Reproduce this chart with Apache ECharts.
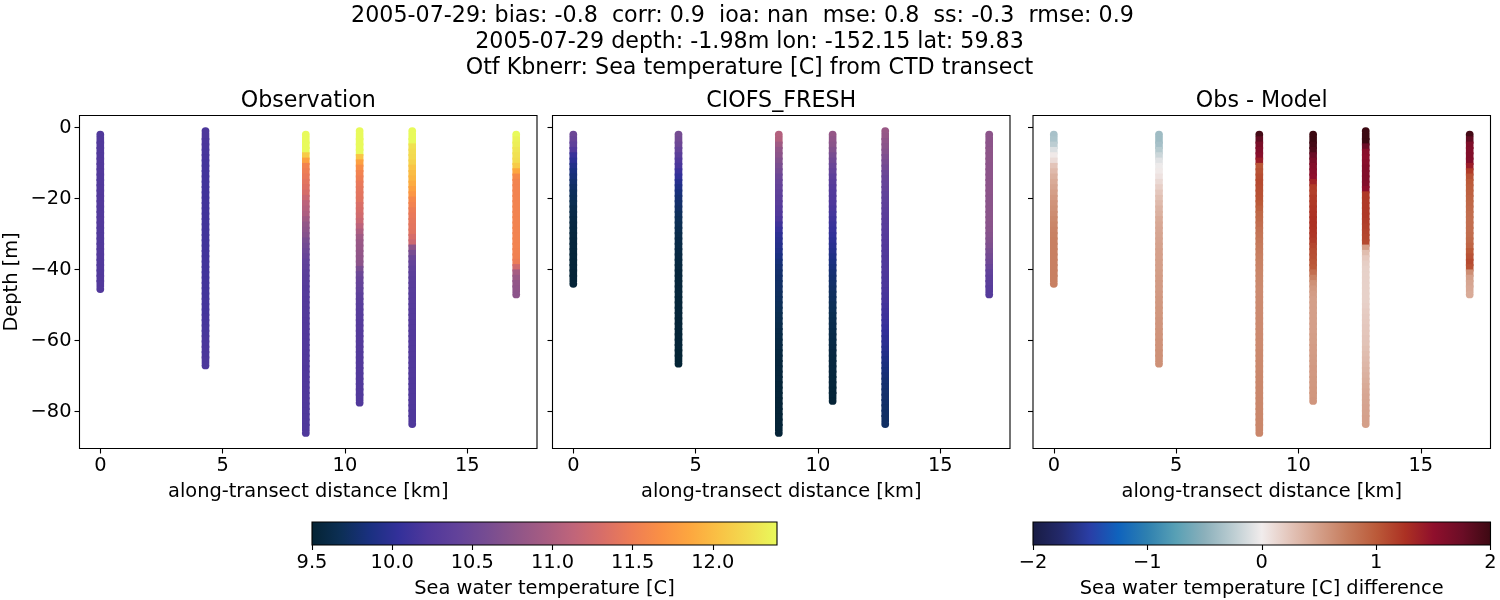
<!DOCTYPE html>
<html><head><meta charset="utf-8">
<script src="https://cdn.jsdelivr.net/npm/echarts@6/dist/echarts.min.js"></script>
<style>html,body{margin:0;background:#fff}#c{width:1500px;height:600px}</style></head>
<body><div id="c"></div>
<script>
const titleLines = [
  '2005-07-29: bias: -0.8  corr: 0.9  ioa: nan  mse: 0.8  ss: -0.3  rmse: 0.9',
  '2005-07-29 depth: -1.98m lon: -152.15 lat: 59.83',
  'Otf Kbnerr: Sea temperature [C] from CTD transect'
];
const panelTitles = ['Observation', 'CIOFS_FRESH', 'Obs - Model'];
const castKm = [0, 4.3, 8.4, 10.6, 12.75, 17.0];
const xTicks = [0, 5, 10, 15];
const yTicks = [0, -20, -40, -60, -80];
const tempTicks = [9.5, 10, 10.5, 11, 11.5, 12];
const diffTicks = [-2, -1, 0, 1, 2];
const depthsFrom1 = [-1,-2.5,-4,-5.5,-7,-8.5,-10,-11.5,-13,-14.5,-16,-17.5,-19,-20.5,-22,-23.5,-25,-26.5,-28,-29.5,-31,-32.5,-34,-35.5,-37,-38.5,-40,-41.5,-43,-44.5,-46,-47.5,-49,-50.5,-52,-53.5,-55,-56.5,-58,-59.5,-61,-62.5,-64,-65.5,-67,-68.5,-70,-71.5,-73,-74.5,-76,-77.5,-79,-80.5,-82,-83.5,-85];
const depthsFrom2 = [-2,-3.5,-5,-6.5,-8,-9.5,-11,-12.5,-14,-15.5,-17,-18.5,-20,-21.5,-23,-24.5,-26,-27.5,-29,-30.5,-32,-33.5,-35,-36.5,-38,-39.5,-41,-42.5,-44,-45.5,-47,-48.5,-50,-51.5,-53,-54.5,-56,-57.5,-59,-60.5,-62,-63.5,-65,-66.5,-68,-69.5,-71,-72.5,-74,-75.5,-77,-78.5,-80,-81.5,-83,-84.5,-86];

const obs0 = [10.24,10.24,10.24,10.24,10.24,10.25,10.25,10.25,10.24,10.24,10.24,10.25,10.25,10.25,10.24,10.24,10.25,10.25,10.24,10.24,10.24,10.25,10.25,10.25,10.24,10.24,10.24,10.25,10.25,10.25];
const obs1 = [10.2,10.2,10.19,10.18,10.17,10.16,10.15,10.15,10.14,10.14,10.13,10.13,10.13,10.13,10.13,10.13,10.13,10.13,10.13,10.13,10.13,10.13,10.13,10.13,10.13,10.13,10.13,10.14,10.14,10.14,10.14,10.14,10.15,10.15,10.15,10.16,10.16,10.17,10.17,10.18,10.18,10.19,10.19,10.2,10.2];
const obs2 = [12.6,12.6,12.5,12.4,12.1,11.8,11.55,11.5,11.45,11.4,11.35,11.3,11.2,11.1,11.05,11,10.9,10.8,10.75,10.7,10.6,10.55,10.5,10.45,10.4,10.38,10.35,10.33,10.3,10.28,10.28,10.27,10.27,10.26,10.26,10.25,10.25,10.25,10.25,10.24,10.24,10.24,10.24,10.24,10.23,10.23,10.23,10.23,10.23,10.23,10.23,10.22,10.22,10.22,10.22,10.22,10.22];
const obs3 = [12.7,12.7,12.6,12.5,12.4,12.05,11.8,11.65,11.55,11.5,11.45,11.42,11.4,11.38,11.32,11.3,11.25,11.2,11.1,11,10.9,10.85,10.83,10.8,10.78,10.75,10.6,10.5,10.45,10.42,10.4,10.35,10.33,10.31,10.3,10.29,10.28,10.28,10.27,10.27,10.26,10.26,10.25,10.25,10.25,10.25,10.24,10.24,10.24,10.24,10.24,10.24];
const obs4 = [12.8,12.6,12.4,12.25,12.22,12.2,12.15,12.05,12,11.95,11.88,11.8,11.72,11.6,11.55,11.48,11.45,11.42,11.4,11.38,11.3,11.22,10.75,10.6,10.48,10.42,10.38,10.35,10.33,10.32,10.31,10.3,10.3,10.29,10.28,10.28,10.27,10.27,10.26,10.26,10.25,10.25,10.25,10.24,10.24,10.24,10.24,10.23,10.23,10.23,10.23,10.23,10.22,10.22,10.22,10.22];
const obs5 = [12.4,12.35,12.33,12.28,12.25,12.22,12.1,11.85,11.62,11.56,11.55,11.55,11.55,11.55,11.55,11.55,11.55,11.55,11.55,11.55,11.55,11.55,11.54,11.53,11.48,11.25,10.95,10.85,10.8,10.78,10.75];

const mod0 = [10.5,10.45,10.38,10.25,10.08,10,9.92,9.86,9.82,9.78,9.74,9.71,9.69,9.66,9.63,9.61,9.59,9.58,9.57,9.56,9.55,9.55,9.54,9.54,9.53,9.53,9.52,9.52,9.52];
const mod1 = [10.58,10.55,10.5,10.42,10.33,10.24,10.18,10.1,10.03,9.96,9.9,9.84,9.8,9.77,9.74,9.71,9.69,9.67,9.65,9.63,9.61,9.6,9.59,9.58,9.57,9.56,9.55,9.55,9.54,9.54,9.54,9.53,9.53,9.53,9.53,9.52,9.52,9.52,9.52,9.52,9.52,9.51,9.51,9.51];
const mod2 = [11.05,11.03,10.9,10.8,10.75,10.68,10.62,10.57,10.5,10.46,10.42,10.38,10.35,10.32,10.28,10.25,10.2,10.12,10.06,10,9.97,9.94,9.91,9.87,9.83,9.8,9.78,9.76,9.75,9.74,9.72,9.71,9.7,9.68,9.66,9.65,9.63,9.61,9.6,9.59,9.58,9.57,9.56,9.55,9.55,9.54,9.54,9.53,9.53,9.53,9.52,9.52,9.52,9.52,9.52,9.52,9.52];
const mod3 = [10.82,10.78,10.74,10.68,10.6,10.54,10.48,10.42,10.36,10.32,10.28,10.26,10.24,10.21,10.18,10.15,10.12,10.09,10.06,10.03,10,9.97,9.94,9.9,9.87,9.84,9.81,9.79,9.76,9.74,9.72,9.71,9.69,9.68,9.66,9.65,9.64,9.62,9.61,9.6,9.59,9.58,9.57,9.56,9.56,9.55,9.54,9.54,9.53,9.53,9.52];
const mod4 = [10.85,10.82,10.78,10.74,10.7,10.65,10.6,10.55,10.5,10.46,10.44,10.42,10.4,10.38,10.37,10.35,10.34,10.32,10.31,10.3,10.28,10.27,10.25,10.24,10.23,10.22,10.22,10.21,10.2,10.2,10.19,10.17,10.16,10.14,10.12,10.1,10.08,10.05,10.03,10,9.98,9.95,9.92,9.89,9.86,9.84,9.82,9.8,9.79,9.78,9.77,9.76,9.75,9.75,9.74,9.74];
const mod5 = [10.75,10.75,10.75,10.76,10.76,10.76,10.75,10.75,10.75,10.75,10.75,10.75,10.74,10.74,10.74,10.74,10.74,10.73,10.72,10.7,10.68,10.65,10.6,10.56,10.52,10.46,10.4,10.36,10.33,10.3,10.28];

const dif0 = [-0.35,-0.33,-0.25,-0.1,0.02,0.1,0.25,0.32,0.38,0.42,0.46,0.5,0.54,0.58,0.6,0.63,0.66,0.68,0.7,0.71,0.72,0.72,0.72,0.72,0.72,0.72,0.72,0.72,0.72];
const dif1 = [-0.4,-0.4,-0.36,-0.28,-0.18,-0.08,-0.02,0.02,0.06,0.12,0.18,0.23,0.28,0.32,0.36,0.38,0.42,0.44,0.45,0.46,0.47,0.48,0.49,0.49,0.5,0.5,0.51,0.52,0.53,0.53,0.54,0.55,0.55,0.56,0.56,0.57,0.57,0.58,0.58,0.59,0.59,0.6,0.6,0.6];
const dif2 = [1.95,1.8,1.65,1.6,1.55,1.4,1.02,1.05,1.08,1.1,1.08,1.06,1.05,1,0.95,0.9,0.88,0.85,0.82,0.8,0.78,0.76,0.74,0.72,0.71,0.7,0.68,0.67,0.66,0.65,0.65,0.65,0.65,0.65,0.65,0.65,0.65,0.65,0.65,0.65,0.65,0.66,0.66,0.66,0.66,0.67,0.67,0.67,0.67,0.67,0.67,0.67,0.67,0.67,0.67,0.67,0.67];
const dif3 = [2,2,1.95,1.9,1.75,1.65,1.58,1.55,1.5,1.35,1.18,1.15,1.18,1.2,1.22,1.24,1.25,1.25,1.24,1.22,1.18,1.12,1.08,1.06,1.03,1,0.85,0.72,0.6,0.55,0.52,0.5,0.5,0.5,0.5,0.5,0.5,0.5,0.51,0.51,0.52,0.52,0.53,0.53,0.54,0.54,0.55,0.55,0.56,0.56,0.57];
const dif4 = [2,2,2,1.75,1.55,1.52,1.55,1.58,1.6,1.6,1.58,1.5,1.2,1.2,1.2,1.2,1.2,1.18,1.16,1.14,1.12,1.1,0.5,0.3,0.22,0.19,0.17,0.17,0.17,0.17,0.17,0.17,0.17,0.18,0.2,0.21,0.22,0.23,0.24,0.25,0.26,0.28,0.3,0.32,0.34,0.36,0.38,0.4,0.42,0.44,0.45,0.46,0.47,0.48,0.49,0.5];
const dif5 = [1.95,1.8,1.62,1.6,1.6,1.58,1.4,1.18,1.05,1,0.97,0.95,0.93,0.9,0.88,0.86,0.85,0.85,0.85,0.86,0.88,0.92,1,1.05,1.1,1.05,0.62,0.5,0.46,0.44,0.42];

const obsCasts = [[obs0,depthsFrom2],[obs1,depthsFrom1],[obs2,depthsFrom2],[obs3,depthsFrom1],[obs4,depthsFrom1],[obs5,depthsFrom2]];
const modCasts = [[mod0,depthsFrom2],[mod1,depthsFrom2],[mod2,depthsFrom2],[mod3,depthsFrom2],[mod4,depthsFrom1],[mod5,depthsFrom2]];
const difCasts = [[dif0,depthsFrom2],[dif1,depthsFrom2],[dif2,depthsFrom2],[dif3,depthsFrom2],[dif4,depthsFrom1],[dif5,depthsFrom2]];

const thermalColors = ['#042333','#0c2f55','#1a3080','#33309a','#50389b','#62429a','#764c92','#8e5589','#a65c82','#c0657a','#d86e68','#ee7d55','#fa9045','#fda73f','#f9c245','#f2dc50','#e8fa5b'];
const balanceColors = ['#181c43','#23296b','#2a3ea6','#0f63bd','#2e80b0','#58a0b5','#8bb0bb','#bccdd2','#f1ecec','#e3c4b9','#d49f89','#c67c5d','#bb5a39','#ac3123','#8f0f2c','#6b0d26','#3c0912'];
const tempRange = [9.5, 12.4];
const diffRange = [-2, 2];

const F = 'DejaVu Sans';
const INK = '#000';
const panelLeft = [79.5, 552.5, 1033];
const panelW = 457.5;
const fs = 19.4;
const ts = 22.2;

function pts(casts){
  const out = [];
  casts.forEach((c,i)=>{ c[0].forEach((v,k)=>{
    const end = k===0 || k===c[0].length-1;
    out.push({value:[castKm[i], c[1][k], v], symbol:end?'circle':'rect', symbolSize:end?[7.8,7.8]:[7.6,7.4]});
  }); });
  return out;
}
function gradient(cols){
  return {type:'linear',x:0,y:0,x2:1,y2:0,colorStops:cols.map((c,i)=>({offset:i/(cols.length-1),color:c}))};
}
const minusFmt = v => String(v).replace('-','\u2212');
const grid=[], xAxis=[], yAxis=[], series=[];
panelLeft.forEach((l,i)=>{
  grid.push({left:l,top:115.5,width:panelW,height:333,show:true,borderColor:INK,borderWidth:1.1,backgroundColor:'#fff'});
  xAxis.push({type:'value',gridIndex:i,min:-0.85,max:17.85,splitLine:{show:false},
    axisLine:{show:false,onZero:false},
    axisTick:{show:true,length:5,inside:false,customValues:xTicks,lineStyle:{color:INK,width:1.1}},
    axisLabel:{show:true,customValues:xTicks,fontFamily:F,fontSize:fs,color:INK,margin:8,hideOverlap:false},
    name:'along-transect distance [km]',nameLocation:'middle',nameGap:34,
    nameTextStyle:{fontFamily:F,fontSize:fs,color:INK}});
  yAxis.push({type:'value',gridIndex:i,min:-90.4,max:3.4,splitLine:{show:false},
    axisLine:{show:false,onZero:false},
    axisTick:{show:true,length:5,customValues:yTicks,lineStyle:{color:INK,width:1.1}},
    axisLabel:{show:i===0,customValues:yTicks,fontFamily:F,fontSize:fs,color:INK,margin:8,padding:[2,0,0,0],formatter:minusFmt},
    name:i===0?'Depth [m]':'',nameLocation:'middle',nameGap:58,nameRotate:90,
    nameTextStyle:{fontFamily:F,fontSize:fs,color:INK}});
  series.push({type:'scatter',xAxisIndex:i,yAxisIndex:i,silent:true,animation:false,
    data:pts([obsCasts,modCasts,difCasts][i]),itemStyle:{opacity:1},progressive:0});
});
// colour bars
[[312,465,tempRange,tempTicks,thermalColors,'Sea water temperature [C]'],
 [1033,457.5,diffRange,diffTicks,balanceColors,'Sea water temperature [C] difference']].forEach((b,j)=>{
  const gi = 3+j;
  grid.push({left:b[0],top:522,width:b[1],height:23,show:true,borderColor:INK,borderWidth:1.1,backgroundColor:gradient(b[4])});
  xAxis.push({type:'value',gridIndex:gi,min:b[2][0],max:b[2][1],splitLine:{show:false},axisLine:{show:false,onZero:false},
    axisTick:{show:true,length:5,customValues:b[3],lineStyle:{color:INK,width:1.1}},
    axisLabel:{show:true,customValues:b[3],fontFamily:F,fontSize:fs,color:INK,margin:8,hideOverlap:false,
      formatter:j===0?(v=>v.toFixed(1)):minusFmt},
    name:b[5],nameLocation:'middle',nameGap:34,nameTextStyle:{fontFamily:F,fontSize:fs,color:INK}});
  yAxis.push({type:'value',gridIndex:gi,min:0,max:1,show:false});
});
const title = [
  {text:titleLines[0],left:742.5,top:5},
  {text:titleLines[1],left:749.5,top:31},
  {text:titleLines[2],left:749.5,top:57}
].map(t=>({...t,textAlign:'center',padding:0,textStyle:{fontFamily:F,fontSize:ts,fontWeight:'normal',color:INK}}));
panelLeft.forEach((l,i)=>title.push({text:panelTitles[i],left:l+panelW/2,top:90,textAlign:'center',padding:0,
  textStyle:{fontFamily:F,fontSize:ts,fontWeight:'normal',color:INK}}));

const chart = echarts.init(document.getElementById('c'),null,{renderer:'canvas'});
chart.setOption({
  animation:false,backgroundColor:'#fff',title,grid,xAxis,yAxis,series,
  visualMap:[
    {type:'continuous',show:false,seriesIndex:[0,1],dimension:2,min:tempRange[0],max:tempRange[1],inRange:{color:thermalColors}},
    {type:'continuous',show:false,seriesIndex:2,dimension:2,min:diffRange[0],max:diffRange[1],inRange:{color:balanceColors}}
  ]
});
</script></body></html>
